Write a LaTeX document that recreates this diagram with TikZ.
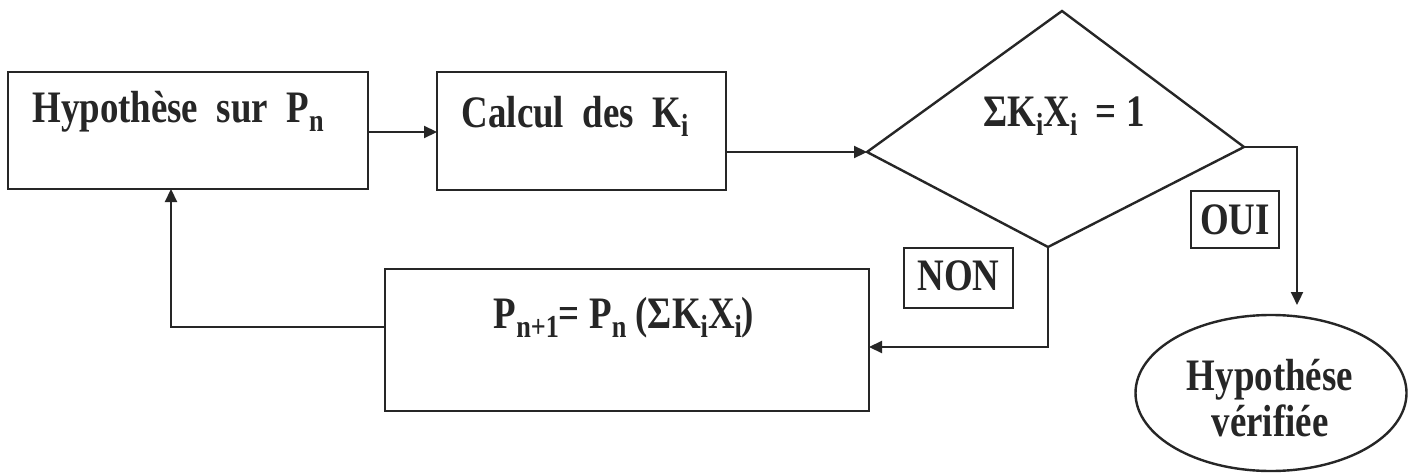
\documentclass[tikz,border=0pt]{standalone}
\usepackage{fontspec}
\setmainfont[FakeStretch=0.82]{Liberation Serif}
\usetikzlibrary{arrows.meta,shapes.geometric}
\newcommand\dfont{\fontsize{45}{52}\selectfont\bfseries}
\newcommand\lo[1]{\raisebox{-0.2em}{\fontsize{32}{32}\selectfont #1}}
\definecolor{ink}{HTML}{262626}
\begin{document}
\begin{tikzpicture}[x=1pt,y=-1pt,
  box/.style={rectangle, draw=ink, line width=2.6pt, inner sep=0pt, outer sep=0pt},
  tagbox/.style={rectangle, draw=ink, line width=2.2pt, inner sep=0pt, outer sep=0pt, font=\dfont, text=ink},
  ellbox/.style={ellipse, draw=ink, line width=2.4pt, inner sep=0pt, outer sep=0pt},
  lbl/.style={anchor=base, inner sep=0pt, font=\dfont, text=ink},
  conn/.style={draw=ink, line width=2.2pt},
  arr/.style={conn, -{Triangle[length=13pt,width=12pt]}},
]
\useasboundingbox[fill=white] (0,0) rectangle (1415,473);

% boxes
\node[box, minimum width=360pt, minimum height=117pt] (b1) at (188,130.5) {};
\node[lbl] (t1) at (178,123) {Hypothèse\ \ sur\ \ P\lo{n}};
\node[box, minimum width=289pt, minimum height=118pt] (b2) at (581.5,131) {};
\node[lbl] (t2) at (575,128) {Calcul\ \ des\ \ K\lo{i}};
\node[box, minimum width=484pt, minimum height=142pt] (b3) at (627,340) {};
\node[lbl] (t4) at (624,328) {P\lo{n+1}= P\lo{n} (ΣK\lo{i}X\lo{i})};

% decision
\coordinate (dT) at (1062,11);
\coordinate (dR) at (1244,147);
\coordinate (dB) at (1048,247);
\coordinate (dL) at (867,152);
\draw[draw=ink, line width=2.4pt, line join=miter] (dT) -- (dR) -- (dB) -- (dL) -- cycle;
\node[lbl] (t3) at (1064,127) {ΣK\lo{i}X\lo{i}\ \ = 1};

% tags
\node[tagbox, minimum width=88pt, minimum height=57pt] (oui) at (1235,219.5) {OUI};
\node[tagbox, minimum width=109pt, minimum height=60pt] (non) at (958.5,278) {\raisebox{4pt}{NON}};

% end
\node[ellbox, minimum width=271pt, minimum height=156pt] (ell) at (1271,393) {};
\node[lbl] (t5) at (1270,390) {Hypothése};
\node[lbl] (t6) at (1270,436) {vérifiée};

% connectors
\coordinate (oT) at (1297,305);
\coordinate (nc) at (1048,347);
\coordinate (lc) at (171,327);
\draw[arr] (b1.east |- 0,132) -- (b2.west |- 0,132);
\draw[arr] (b2.east |- dL) -- (dL);
\draw[arr] (dR) -| (oT);
\draw[arr] (dB) |- (b3.east |- nc);
\draw[arr] (b3.west |- lc) -| (b1.south -| lc);
\end{tikzpicture}
\end{document}
